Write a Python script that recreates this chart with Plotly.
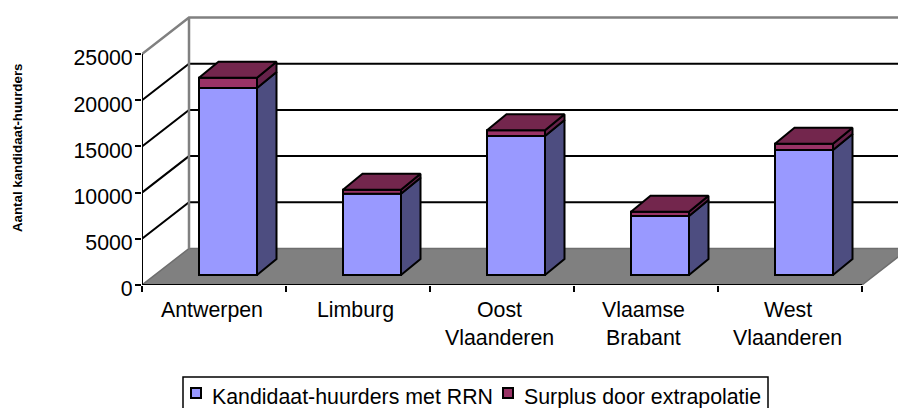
import plotly.graph_objects as go

# ---- data ----
categories_line1 = ["Antwerpen", "Limburg", "Oost", "Vlaamse", "West"]
categories_line2 = ["", "", "Vlaanderen", "Brabant", "Vlaanderen"]
kandidaat = [20240, 8800, 15040, 6390, 13530]
surplus = [1110, 430, 620, 460, 680]
y_ticks = [0, 5000, 10000, 15000, 20000, 25000]
x_ticks = [0, 1, 2, 3, 4, 5]
series_names = ["Kandidaat-huurders met RRN", "Surplus door extrapolatie"]
y_title = "Aantal kandidaat-huurders"

# ---- layout / projection ----
W, H = 898, 408
ML, MB = 142, 123
PW, PH = W - ML, H - MB
PX_X, PX_Y = 144.0, 231.0 / 25000      # px per category, px per value
XMAX, YMAX = PW / PX_X, PH / PX_Y
WALL_DX, WALL_DY = 47 / PX_X, 36.5 / PX_Y
BAR_L, BAR_W = 57 / PX_X, 58 / PX_X
BAR_BASE = 10 / PX_Y
BAR_DX, BAR_DY = 19.5 / PX_X, 16 / PX_Y
LABEL_SHIFT = -2.5 / PX_X
FONT = "Liberation Sans, Arial, sans-serif"
FS = 21.33

BLUE, BLUE_SIDE = "#9999FF", "#4D4D80"
PURP, PURP_TOP, PURP_SIDE = "#993366", "#73264D", "#66224A"
GRAY, FLOOR = "#808080", "#808080"


def px(x):
    return (x - ML) / PW


def py(y):
    return (H - MB - y) / PH


shapes = []
# floor
shapes.append(dict(type="path", layer="below", xref="x", yref="y",
                   path=f"M0,0 L5,0 L{5+WALL_DX},{WALL_DY} L{WALL_DX},{WALL_DY} Z",
                   fillcolor=FLOOR, line=dict(color="#6e6e6e", width=1.5)))
# gridlines
for v in y_ticks[1:-1]:
    shapes.append(dict(type="path", layer="below", xref="x", yref="y",
                       path=f"M0,{v} L{WALL_DX},{v+WALL_DY} L{XMAX},{v+WALL_DY}",
                       line=dict(color="black", width=2)))
# wall outline
top = y_ticks[-1]
shapes.append(dict(type="path", layer="below", xref="x", yref="y",
                   path=f"M0,{top} L{WALL_DX},{top+WALL_DY} L{XMAX},{top+WALL_DY} "
                        f"M{WALL_DX},{top+WALL_DY} L{WALL_DX},{WALL_DY}",
                   line=dict(color=GRAY, width=2.5)))
# legend box + swatches
shapes.append(dict(type="rect", xref="paper", yref="paper",
                   x0=px(183), x1=px(768), y0=py(377), y1=py(412),
                   line=dict(color="black", width=1.5), fillcolor="white"))
for sx, col in ((191, BLUE), (503, PURP)):
    shapes.append(dict(type="rect", xref="paper", yref="paper",
                       x0=px(sx), x1=px(sx + 10), y0=py(388), y1=py(398),
                       line=dict(color="black", width=2), fillcolor=col))

fig = go.Figure()
lefts = [i + BAR_L for i in range(len(kandidaat))]
fig.add_trace(go.Bar(x=[l + BAR_W / 2 for l in lefts], y=kandidaat, base=[BAR_BASE] * 5,
                     width=BAR_W, name=series_names[0], showlegend=False,
                     marker=dict(color=BLUE, line=dict(color="black", width=2))))
fig.add_trace(go.Bar(x=[l + BAR_W / 2 for l in lefts], y=surplus,
                     base=[BAR_BASE + k for k in kandidaat],
                     width=BAR_W, name=series_names[1], showlegend=False,
                     marker=dict(color=PURP, line=dict(color="black", width=2))))


def poly(xs, ys, color):
    fig.add_trace(go.Scatter(x=xs + xs[:1], y=ys + ys[:1], mode="lines", fill="toself",
                             fillcolor=color, line=dict(color="black", width=2),
                             showlegend=False, hoverinfo="skip"))


for l, k, s in zip(lefts, kandidaat, surplus):
    r = l + BAR_W
    y0, y1, y2 = BAR_BASE, BAR_BASE + k, BAR_BASE + k + s
    poly([r, r + BAR_DX, r + BAR_DX, r], [y0, y0 + BAR_DY, y1 + BAR_DY, y1], BLUE_SIDE)
    poly([r, r + BAR_DX, r + BAR_DX, r], [y1, y1 + BAR_DY, y2 + BAR_DY, y2], PURP_SIDE)
    poly([l, r, r + BAR_DX, l + BAR_DX], [y2, y2, y2 + BAR_DY, y2 + BAR_DY], PURP_TOP)

# axis lines
fig.add_trace(go.Scatter(x=[0, 0], y=[0, top], mode="lines", cliponaxis=False,
                         line=dict(color="black", width=2), showlegend=False, hoverinfo="skip"))
fig.add_trace(go.Scatter(x=[0, 5], y=[0, 0], mode="lines", cliponaxis=False,
                         line=dict(color="black", width=2), showlegend=False, hoverinfo="skip"))

annotations = []
for i, (a, b) in enumerate(zip(categories_line1, categories_line2)):
    for txt, ypx in ((a, 310), (b, 338)):
        if txt:
            annotations.append(dict(text=txt, x=i + 0.5 + LABEL_SHIFT, xref="x", y=py(ypx), yref="paper",
                                    showarrow=False, xanchor="center", yanchor="middle",
                                    font=dict(size=FS, family=FONT, color="black")))
annotations.append(dict(text=f"<b>{y_title}</b>", x=px(17), y=py(148), xref="paper", yref="paper",
                        textangle=-90, showarrow=False, xanchor="center", yanchor="middle",
                        font=dict(size=13.3, family=FONT, color="black")))
for name, tx in zip(series_names, (210, 522)):
    annotations.append(dict(text=name, x=px(tx), y=py(397), xref="paper", yref="paper",
                            showarrow=False, xanchor="left", yanchor="middle",
                            font=dict(size=FS, family=FONT, color="black")))

fig.update_layout(
    width=W, height=H, margin=dict(l=ML, r=0, t=0, b=MB, pad=0, autoexpand=False),
    paper_bgcolor="white", plot_bgcolor="white", barmode="overlay", showlegend=False,
    font=dict(family=FONT, size=FS, color="black"),
    shapes=shapes, annotations=annotations,
    xaxis=dict(range=[0, XMAX], tickvals=x_ticks, ticktext=[""] * 6, ticks="outside",
               ticklen=6, tickwidth=2, tickcolor="black", showgrid=False, zeroline=False,
               showline=False),
    yaxis=dict(range=[0, YMAX], tickvals=y_ticks, ticks="outside", ticklen=6, tickwidth=2,
               tickcolor="black", showgrid=False, zeroline=False, showline=False,
               ticklabelstandoff=-2, ticklabelshift=4,
               tickfont=dict(size=FS, family=FONT, color="black"), tickformat="d"),
)
fig.write_html("out.html", config=dict(displayModeBar=False),
               post_script="document.body.style.margin='0';document.body.style.overflow='hidden';")
